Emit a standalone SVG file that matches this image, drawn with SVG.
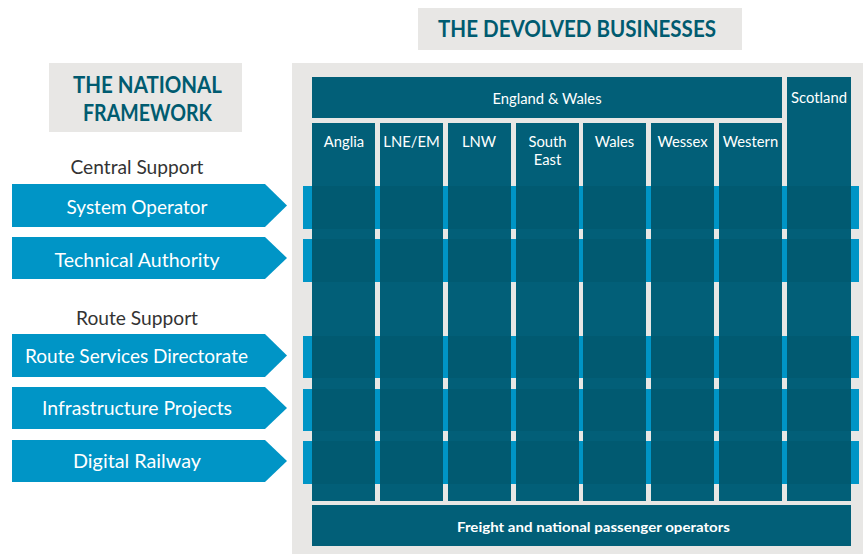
<svg xmlns="http://www.w3.org/2000/svg" width="863" height="554" viewBox="0 0 863 554">
  <style>
    .panel { fill: #e8e7e5; }
    .teal { fill: #025f78; }
    .band { fill: #0095c6; }
    .arrow { fill: #0095c6; }
    .head { font-family: Lato, "Open Sans", sans-serif; font-weight: 700; font-size: 22px; fill: #005b70; text-anchor: middle; }
    .sub { font-family: Lato, "Open Sans", sans-serif; font-size: 19px; fill: #333333; text-anchor: middle; }
    .lbl { font-family: Lato, "Open Sans", sans-serif; font-size: 19px; fill: #ffffff; text-anchor: middle; }
    .col { font-family: Lato, "Open Sans", sans-serif; font-size: 14.8px; fill: #ffffff; text-anchor: middle; }
    .foot { font-family: Lato, "Open Sans", sans-serif; font-weight: 700; font-size: 14px; fill: #ffffff; text-anchor: middle; }
    .shade { fill: #000000; opacity: 0.05; }
  </style>
  <defs>
    <clipPath id="colClip">
      <rect x="312" y="123" width="63" height="378"/>
      <rect x="380" y="123" width="63" height="378"/>
      <rect x="448" y="123" width="63" height="378"/>
      <rect x="516" y="123" width="63" height="378"/>
      <rect x="583" y="123" width="63" height="378"/>
      <rect x="651" y="123" width="63" height="378"/>
      <rect x="719" y="123" width="63" height="378"/>
      <rect x="787" y="77" width="64" height="424"/>
    </clipPath>
  </defs>

  <rect width="863" height="554" fill="#ffffff"/>

  <!-- headings -->
  <g id="title-devolved">
    <rect class="panel" x="418" y="8" width="324" height="42"/>
    <text class="head" x="577" y="37" textLength="278" lengthAdjust="spacingAndGlyphs">THE DEVOLVED BUSINESSES</text>
  </g>
  <g id="title-national">
    <rect class="panel" x="49" y="63" width="193" height="69"/>
    <text class="head" x="147.5" y="93" textLength="149" lengthAdjust="spacingAndGlyphs">THE NATIONAL</text>
    <text class="head" x="147.5" y="121" textLength="129" lengthAdjust="spacingAndGlyphs">FRAMEWORK</text>
  </g>

  <!-- devolved businesses backdrop -->
  <rect class="panel" x="292" y="63" width="571" height="491"/>

  <!-- bands carrying each national function across the routes -->
  <g id="connectors">
    <rect class="band" x="303" y="186" width="556" height="43"/>
    <rect class="band" x="303" y="239" width="556" height="43"/>
    <rect class="band" x="303" y="336" width="556" height="42"/>
    <rect class="band" x="303" y="389" width="556" height="42"/>
    <rect class="band" x="303" y="441" width="556" height="43"/>
  </g>

  <!-- routes -->
  <g id="england-wales">
    <rect class="teal" x="312" y="77" width="470" height="41"/>
    <text class="col" x="547" y="104">England &amp; Wales</text>
  </g>
  <g id="anglia">
    <rect class="teal" x="312" y="123" width="63" height="378"/>
    <text class="col" x="344" y="147">Anglia</text>
  </g>
  <g id="lne-em">
    <rect class="teal" x="380" y="123" width="63" height="378"/>
    <text class="col" x="411.5" y="147">LNE/EM</text>
  </g>
  <g id="lnw">
    <rect class="teal" x="448" y="123" width="63" height="378"/>
    <text class="col" x="479" y="147">LNW</text>
  </g>
  <g id="south-east">
    <rect class="teal" x="516" y="123" width="63" height="378"/>
    <text class="col" x="547.5" y="147">South</text>
    <text class="col" x="547.5" y="165">East</text>
  </g>
  <g id="wales">
    <rect class="teal" x="583" y="123" width="63" height="378"/>
    <text class="col" x="614.5" y="147">Wales</text>
  </g>
  <g id="wessex">
    <rect class="teal" x="651" y="123" width="63" height="378"/>
    <text class="col" x="682.5" y="147">Wessex</text>
  </g>
  <g id="western">
    <rect class="teal" x="719" y="123" width="63" height="378"/>
    <text class="col" x="750.5" y="147">Western</text>
  </g>
  <g id="scotland">
    <rect class="teal" x="787" y="77" width="64" height="424"/>
    <text class="col" x="819" y="103">Scotland</text>
  </g>

  <!-- slight darkening where bands pass under the routes -->
  <g clip-path="url(#colClip)">
    <rect class="shade" x="303" y="186" width="556" height="43"/>
    <rect class="shade" x="303" y="239" width="556" height="43"/>
    <rect class="shade" x="303" y="336" width="556" height="42"/>
    <rect class="shade" x="303" y="389" width="556" height="42"/>
    <rect class="shade" x="303" y="441" width="556" height="43"/>
  </g>

  <g id="freight">
    <rect class="teal" x="312" y="505" width="539" height="41"/>
    <text class="foot" x="593.5" y="532" textLength="273" lengthAdjust="spacingAndGlyphs">Freight and national passenger operators</text>
  </g>

  <!-- national framework functions -->
  <text class="sub" x="137" y="174" textLength="133" lengthAdjust="spacingAndGlyphs">Central Support</text>
  <g id="system-operator">
    <polygon class="arrow" points="12,184 265,184 287,205.5 265,227 12,227"/>
    <text class="lbl" x="137" y="214" textLength="141" lengthAdjust="spacingAndGlyphs">System Operator</text>
  </g>
  <g id="technical-authority">
    <polygon class="arrow" points="12,237 265,237 287,258 265,279 12,279"/>
    <text class="lbl" x="137" y="267" textLength="165" lengthAdjust="spacingAndGlyphs">Technical Authority</text>
  </g>
  <text class="sub" x="137" y="325" textLength="122" lengthAdjust="spacingAndGlyphs">Route Support</text>
  <g id="route-services">
    <polygon class="arrow" points="12,334 265,334 287,355.5 265,377 12,377"/>
    <text class="lbl" x="136.5" y="363" textLength="223" lengthAdjust="spacingAndGlyphs">Route Services Directorate</text>
  </g>
  <g id="infrastructure-projects">
    <polygon class="arrow" points="12,387 265,387 287,408 265,429 12,429"/>
    <text class="lbl" x="137" y="415" textLength="190" lengthAdjust="spacingAndGlyphs">Infrastructure Projects</text>
  </g>
  <g id="digital-railway">
    <polygon class="arrow" points="12,440 265,440 287,461 265,482 12,482"/>
    <text class="lbl" x="137" y="468" textLength="128" lengthAdjust="spacingAndGlyphs">Digital Railway</text>
  </g>
</svg>
